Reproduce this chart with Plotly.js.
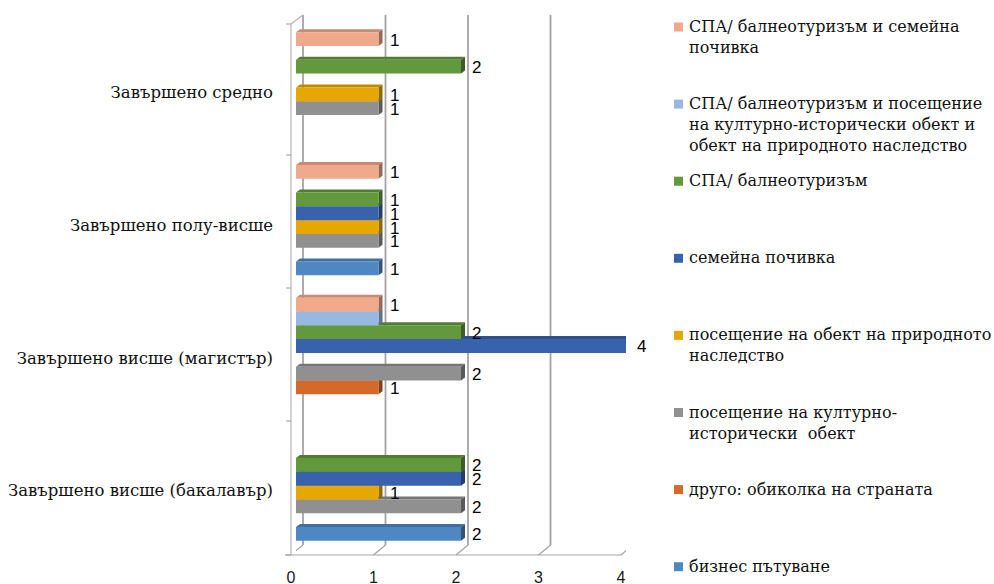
<!DOCTYPE html>
<html>
<head>
<meta charset="utf-8">
<script src="https://cdn.plot.ly/plotly-3.0.1.min.js"></script>
<style>html,body{margin:0;padding:0;background:#fff}#chart{width:994px;height:584px}</style>
</head>
<body>
<div id="chart"></div>
<script>
// ---- data ----
const categories = ['Завършено висше (бакалавър)', 'Завършено висше (магистър)', 'Завършено полу-висше', 'Завършено средно'];
const business   = [2, 0, 1, 0]; // бизнес пътуване
const other      = [0, 1, 0, 0]; // друго: обиколка на страната
const cultural   = [2, 2, 1, 1]; // посещение на културно-исторически обект
const natural    = [1, 0, 1, 1]; // посещение на обект на природното наследство
const family     = [2, 4, 1, 0]; // семейна почивка
const spa        = [2, 2, 1, 2]; // СПА/ балнеотуризъм
const spaCultNat = [0, 1, 0, 0]; // СПА/ балнеотуризъм и посещение ...
const spaFamily  = [0, 1, 1, 1]; // СПА/ балнеотуризъм и семейна почивка
const xTicks = [0, 1, 2, 3, 4];

const seriesNames = [
  'бизнес пътуване',
  'друго: обиколка на страната',
  'посещение на културно-<br>исторически  обект',
  'посещение на обект на природното<br>наследство',
  'семейна почивка',
  'СПА/ балнеотуризъм',
  'СПА/ балнеотуризъм и посещение<br>на културно-исторически обект и<br>обект на природното наследство',
  'СПА/ балнеотуризъм и семейна<br>почивка'
];
const seriesValues = [business, other, cultural, natural, family, spa, spaCultNat, spaFamily];
const seriesColors = ['#4f87c2', '#d5692a', '#909090', '#e6a800', '#3862ae', '#62993d', '#97b8e0', '#f1a98b'];
const seriesShowLabels = [true, true, true, true, true, true, false, true];

// ---- layout geometry ----
const W = 994, H = 584;
const px = x => x / W;
const py = y => (H - y) / H;
const xDom = [px(296), px(626)];
const yDom = [py(552), py(21)];
const bargap = 0.17;
const nS = seriesValues.length;
const bw = (1 - bargap) / nS;
const pxPerUnit = (xDom[1] - xDom[0]) * W / (xTicks[xTicks.length - 1] - xTicks[0]);
const pxPerCat = (yDom[1] - yDom[0]) * H / categories.length;
const barPx = bw * pxPerCat;
const depthX = 4, depthY = 3;
const dxData = depthX / pxPerUnit;

function shade(hex, f) {
  const n = parseInt(hex.slice(1), 16);
  const r = Math.round(((n >> 16) & 255) * f), g = Math.round(((n >> 8) & 255) * f), b = Math.round((n & 255) * f);
  return `rgb(${r},${g},${b})`;
}

const traces = seriesValues.map((vals, i) => ({
  type: 'bar', orientation: 'h', y: categories, x: vals,
  name: seriesNames[i].replace(/<br>/g, ' '),
  marker: { color: seriesColors[i], line: { width: 0 } },
  hovertemplate: '%{y}: %{x}<extra>' + seriesNames[i].replace(/<br>/g, ' ') + '</extra>',
  showlegend: false
}));

const shapes = [];
const annotations = [];
const gridColor = '#a3a3a3';

// back wall gridlines & floor diagonals
xTicks.forEach(t => {
  shapes.push({ type: 'line', layer: 'between', xref: 'x', yref: 'paper', xsizemode: 'pixel', xanchor: t,
    x0: 7, x1: 7, y0: py(545), y1: py(15), line: { color: gridColor, width: 1.8 } });
  shapes.push({ type: 'line', layer: 'between', xref: 'x', yref: 'paper', xsizemode: 'pixel', xanchor: t,
    x0: -5, x1: 7, y0: py(555), y1: py(545), line: { color: gridColor, width: 1.2 } });
});
// floor front line
shapes.push({ type: 'line', layer: 'between', xref: 'paper', yref: 'paper', x0: px(285), x1: px(621), y0: py(555), y1: py(555), line: { color: gridColor, width: 1.2 } });
// left wall
shapes.push({ type: 'line', layer: 'between', xref: 'paper', yref: 'paper', x0: px(291), x1: px(291), y0: py(555), y1: py(24), line: { color: '#b5b5b5', width: 1.2 } });
shapes.push({ type: 'line', layer: 'between', xref: 'paper', yref: 'paper', x0: px(291), x1: px(303), y0: py(24), y1: py(15), line: { color: '#b5b5b5', width: 1.2 } });
[24, 155, 288, 421, 555].forEach(y => {
  shapes.push({ type: 'line', layer: 'between', xref: 'paper', yref: 'paper', x0: px(286), x1: px(291), y0: py(y), y1: py(y), line: { color: '#9a9a9a', width: 1 } });
});

// 3D faces and value labels
seriesValues.forEach((vals, i) => {
  vals.forEach((v, k) => {
    if (!v) return;
    const yc = k + (i - (nS - 1) / 2) * bw;
    const top = yc + bw / 2, bot = yc - bw / 2;
    shapes.push({ type: 'path', layer: 'between', xref: 'x', yref: 'y', ysizemode: 'pixel', yanchor: top,
      path: `M0,0 L${v},0 L${v + dxData},${depthY} L${dxData},${depthY} Z`,
      fillcolor: shade(seriesColors[i], 0.82), line: { width: 0 } });
    shapes.push({ type: 'path', layer: 'between', xref: 'x', yref: 'y', xsizemode: 'pixel', ysizemode: 'pixel', xanchor: v, yanchor: bot,
      path: `M0,0 L${depthX},${depthY} L${depthX},${depthY + barPx} L0,${barPx} Z`,
      fillcolor: shade(seriesColors[i], 0.62), line: { width: 0 } });
    if (seriesShowLabels[i]) {
      annotations.push({ x: v, y: yc, xref: 'x', yref: 'y', text: String(v), showarrow: false,
        xanchor: 'left', yanchor: 'middle', xshift: 9, yshift: -1,
        font: { family: 'Liberation Sans, Arial, sans-serif', size: 17, color: '#000' } });
    }
  });
});

// manual legend (reverse order, Excel style)
const legendTop = 27, legendStep = 77.1;
for (let j = 0; j < nS; j++) {
  const i = nS - 1 - j;
  const cy = legendTop + legendStep * j;
  shapes.push({ type: 'rect', xref: 'paper', yref: 'paper', x0: px(674), x1: px(683), y0: py(cy + 4.5), y1: py(cy - 4.5),
    fillcolor: seriesColors[i], line: { width: 0 } });
  annotations.push({ x: px(688), y: py(cy - 11), xref: 'paper', yref: 'paper', xanchor: 'left', yanchor: 'top', align: 'left',
    text: seriesNames[i], showarrow: false, borderpad: 0,
    font: { family: 'DejaVu Serif, serif', size: 16, color: '#111' } });
}

const layout = {
  width: W, height: H,
  margin: { l: 0, r: 0, t: 0, b: 0 },
  paper_bgcolor: '#fff', plot_bgcolor: 'rgba(0,0,0,0)',
  barmode: 'group', bargap: bargap, bargroupgap: 0,
  showlegend: false,
  xaxis: { domain: xDom, range: [xTicks[0], xTicks[xTicks.length - 1]], tickvals: xTicks, ticktext: xTicks.map(String),
    showgrid: false, zeroline: false, showline: false, ticks: '', ticklabelshift: -5, ticklabelstandoff: 14,
    tickfont: { family: 'Liberation Sans, Arial, sans-serif', size: 16, color: '#1a1a1a' }, fixedrange: true },
  yaxis: { domain: yDom, type: 'category', range: [-0.5, categories.length - 0.5], categoryorder: 'array', categoryarray: categories,
    showgrid: false, zeroline: false, showline: false, ticks: '', ticklabelstandoff: 22, ticklabelshift: 5,
    tickfont: { family: 'DejaVu Serif, serif', size: 16.5, color: '#111' }, fixedrange: true },
  shapes: shapes,
  annotations: annotations
};

Plotly.newPlot('chart', traces, layout, { displayModeBar: false, staticPlot: true });
</script>
</body>
</html>
